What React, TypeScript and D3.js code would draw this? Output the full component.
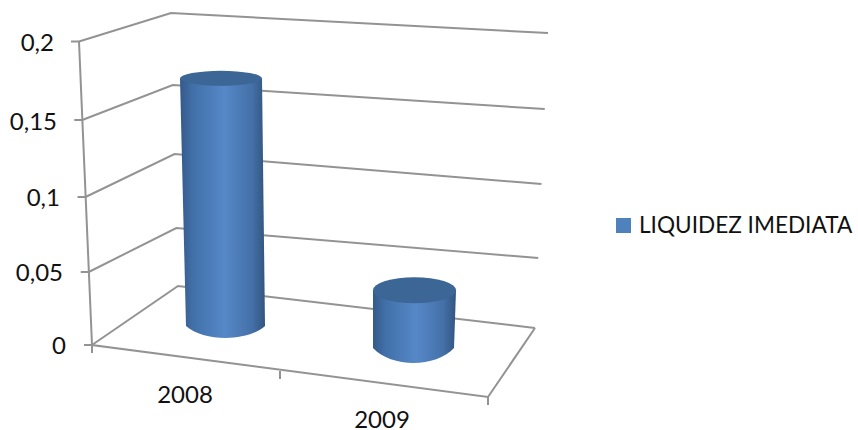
import React from "react";
import * as d3 from "d3";

const categories = ["2008", "2009"];
const seriesName = "LIQUIDEZ IMEDIATA";
const liquidity = [0.172, 0.039];
const axisValues = [0, 0.05, 0.1, 0.15, 0.2];
const axisLabels = ["0", "0,05", "0,1", "0,15", "0,2"];

const W = 858;
const H = 430;
const FONT = "Lato, Carlito, 'Open Sans', sans-serif";
const GRID = "#939393";

// The 3D wall edges do not scale uniformly, so each vertical edge has its own value scale.
const yFront = d3.scaleLinear().domain(axisValues).range([345, 272, 197, 120, 41.5]);
const yBack = d3.scaleLinear().domain(axisValues).range([286, 228, 154, 85, 13]);
const yRight = d3.scaleLinear().domain(axisValues).range([328, 258, 184, 109, 33]);
const xFront = d3.scaleLinear().domain([0, 0.2]).range([92, 79]);
const xBack = d3.scaleLinear().domain([0, 0.2]).range([178, 171]);
const xRight = d3.scaleLinear().domain([0, 0.2]).range([535, 548]);

// Column baselines and heights sit at their own depth on the floor.
const yColumn = categories.map((_, i) =>
  d3.scaleLinear().domain([0, 0.2]).range(i === 0 ? [326, 38] : [348, 52])
);
const baseX = d3.scalePoint().domain(categories).range([225.5, 413.5]);
const topX = d3.scalePoint().domain(categories).range([221, 414.5]);
const baseRx = [39.5, 40.5];
const topRx = [41, 41.5];
const baseRy = [12, 15];
const topRy = [7.5, 13];

// Category labels and ticks run along the front floor edge.
const floorX = d3.scaleLinear().domain([0, 1, 2]).range([92, 280, 488]);
const floorY = d3.scaleLinear().domain([0, 1, 2]).range([345, 371, 397]);
const labelX = d3.scalePoint().domain(categories).range([185, 382]);
const labelY = d3.scalePoint().domain(categories).range([403, 428]);
const labelEnd = [66, 63, 60, 57, 54];
const labelBase = [354, 281, 206, 130, 51];

const line = d3.line<[number, number]>();

function Column({ i, name }: { i: number; name: string }) {
  const topY = yColumn[i](liquidity[i]);
  const botY = yColumn[i](0);
  const tx = topX(name)!;
  const bx = baseX(name)!;
  const body = d3.path();
  body.moveTo(tx - topRx[i], topY);
  body.lineTo(bx - baseRx[i], botY);
  body.bezierCurveTo(
    bx - baseRx[i] * 0.55, botY + baseRy[i] * 1.33,
    bx + baseRx[i] * 0.55, botY + baseRy[i] * 1.33,
    bx + baseRx[i], botY
  );
  body.lineTo(tx + topRx[i], topY);
  body.closePath();
  return (
    <g>
      <path d={body.toString()} fill="url(#columnSide)" />
      <ellipse cx={tx} cy={topY} rx={topRx[i]} ry={topRy[i]} fill="#3c6695" />
    </g>
  );
}

export default function App() {
  return (
    <svg
      width={W}
      height={H}
      viewBox={`0 0 ${W} ${H}`}
      style={{ position: "absolute", left: 0, top: 0, background: "#fff" }}
    >
      <defs>
        <linearGradient id="columnSide" x1="0" x2="1" y1="0" y2="0">
          <stop offset="0" stopColor="#35598a" />
          <stop offset="0.15" stopColor="#4170a8" />
          <stop offset="0.52" stopColor="#5688c8" />
          <stop offset="0.85" stopColor="#4470a8" />
          <stop offset="1" stopColor="#31557f" />
        </linearGradient>
      </defs>

      {axisValues.map((v) => (
        <path
          key={v}
          d={line([
            [xFront(v), yFront(v)],
            [xBack(v), yBack(v)],
            [xRight(v), yRight(v)],
          ])!}
          fill="none"
          stroke={GRID}
          strokeWidth={2}
        />
      ))}

      <path
        d={line([
          [xFront(0.2), yFront(0.2)],
          [xFront(0), yFront(0)],
          [floorX(2), floorY(2)],
          [xRight(0), yRight(0)],
        ])!}
        fill="none"
        stroke={GRID}
        strokeWidth={2}
      />

      {axisValues.map((v) => (
        <line
          key={v}
          x1={xFront(v) - 8}
          x2={xFront(v)}
          y1={yFront(v)}
          y2={yFront(v)}
          stroke={GRID}
          strokeWidth={2}
        />
      ))}
      {[0, 1, 2].map((k) => (
        <line
          key={k}
          x1={floorX(k)}
          x2={floorX(k)}
          y1={floorY(k)}
          y2={floorY(k) + 8}
          stroke={GRID}
          strokeWidth={2}
        />
      ))}

      {categories.map((c, i) => (
        <Column key={c} i={i} name={c} />
      ))}

      <g fontFamily={FONT} fontSize={24} fill="#111">
        {axisLabels.map((t, i) => (
          <text key={t} x={labelEnd[i]} y={labelBase[i]} textAnchor="end">
            {t}
          </text>
        ))}
        {categories.map((c) => (
          <text key={c} x={labelX(c)} y={labelY(c)} textAnchor="middle">
            {c}
          </text>
        ))}
        <rect x={616} y={218} width={15} height={15} fill="#4f81bd" />
        <text x={639} y={233} fontSize={22.6}>
          {seriesName}
        </text>
      </g>
    </svg>
  );
}
